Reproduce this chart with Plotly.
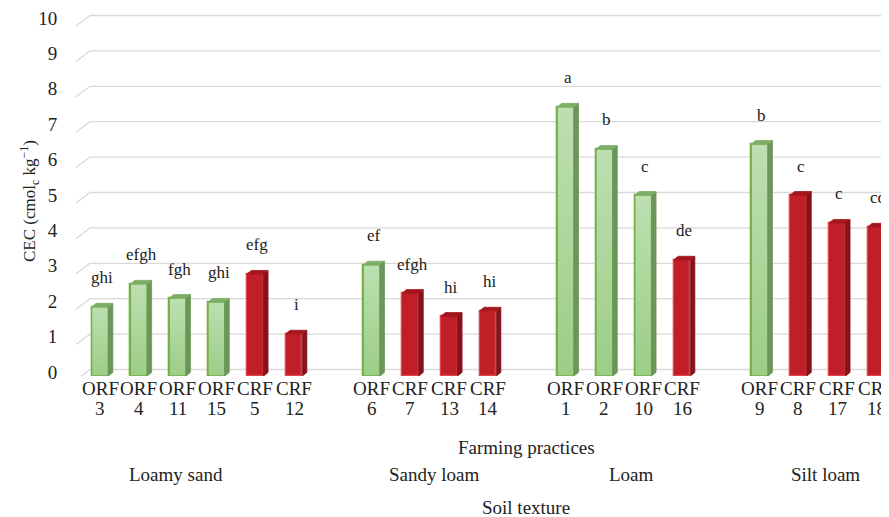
import plotly.graph_objects as go

# ---------------- data ----------------
practices = ["ORF", "ORF", "ORF", "ORF", "CRF", "CRF",
             "ORF", "CRF", "CRF", "CRF",
             "ORF", "ORF", "ORF", "CRF",
             "ORF", "CRF", "CRF", "CRF"]
site_numbers = ["3", "4", "11", "15", "5", "12",
                "6", "7", "13", "14",
                "1", "2", "10", "16",
                "9", "8", "17", "18"]
textures = ["Loamy sand"] * 6 + ["Sandy loam"] * 4 + ["Loam"] * 4 + ["Silt loam"] * 4
texture_order = ["Loamy sand", "Sandy loam", "Loam", "Silt loam"]
cec = [1.95, 2.60, 2.20, 2.09, 2.88, 1.19,
       3.14, 2.34, 1.69, 1.84,
       7.60, 6.41, 5.11, 3.28,
       6.55, 5.11, 4.32, 4.21]
letters = ["ghi", "efgh", "fgh", "ghi", "efg", "i",
           "ef", "efgh", "hi", "hi",
           "a", "b", "c", "de",
           "b", "c", "c", "cd"]
y_ticks = list(range(0, 11))

# ---------------- layout helpers ----------------
W, H = 889, 517
ML, MR, MT, MB = 68, 0, 5, 149
plot_w = W - ML - MR
plot_h = H - MT - MB
slot_px = 38.8
x0_px = 24.0                       # offset of first slot from plot left
px_per_unit = 35.4
x_range = [-x0_px / slot_px, (plot_w - x0_px) / slot_px]
y_range = [0, plot_h / px_per_unit]

# slot positions: one empty slot between texture groups
xpos = [i + texture_order.index(t) for i, t in enumerate(textures)]

bar_w = 16.7 / slot_px
dx = 4.5 / slot_px                 # 3D depth (x)
dy = 3.6 / px_per_unit             # 3D depth (y)
grid_dy = 6.5 / px_per_unit        # back-wall offset of gridlines
label_dy = -4 / px_per_unit        # front edge (tick label) offset

GREEN_FRONT, GREEN_LINE, GREEN_SIDE, GREEN_TOP = "#a9d597", "#72b04a", "#6c955a", "#7eae66"
GREEN_GRAD = [[0, "#9ccd86"], [1, "#bddfb1"]]
RED_FRONT, RED_LINE, RED_SIDE, RED_TOP = "#c11f27", "#e2454b", "#86121a", "#a3161e"

fig = go.Figure()

# front faces
colors = [GREEN_FRONT if p == "ORF" else RED_FRONT for p in practices]
lines = [GREEN_LINE if p == "ORF" else RED_LINE for p in practices]
fig.add_trace(go.Bar(
    x=xpos, y=cec, width=bar_w,
    marker=dict(color=colors, line=dict(color=lines, width=1.3)),
    hoverinfo="skip", showlegend=False,
))

# soft vertical gradient on the green (ORF) front faces
for x, v, p in zip(xpos, cec, practices):
    if p != "ORF":
        continue
    l, r = x - bar_w / 2, x + bar_w / 2
    fig.add_trace(go.Scatter(
        x=[l, r, r, l, l], y=[0, 0, v, v, 0], mode="lines", fill="toself",
        fillgradient=dict(type="vertical", colorscale=GREEN_GRAD, start=0, stop=v),
        line=dict(color=GREEN_LINE, width=1.3),
        hoverinfo="skip", showlegend=False))

# side + top faces (3D look), built from the data
def faces(kind):
    sx, sy, tx, ty = [], [], [], []
    for x, v, p in zip(xpos, cec, practices):
        if p != kind:
            continue
        r = x + bar_w / 2
        l = x - bar_w / 2
        sx += [r, r + dx, r + dx, r, r, None]
        sy += [0, dy, v + dy, v, 0, None]
        tx += [l, r, r + dx, l + dx, l, None]
        ty += [v, v, v + dy, v + dy, v, None]
    return sx, sy, tx, ty

for kind, side_c, top_c in [("ORF", GREEN_SIDE, GREEN_TOP), ("CRF", RED_SIDE, RED_TOP)]:
    sx, sy, tx, ty = faces(kind)
    fig.add_trace(go.Scatter(x=sx, y=sy, mode="lines", fill="toself",
                             fillcolor=side_c, line=dict(color=side_c, width=0.8),
                             hoverinfo="skip", showlegend=False))
    fig.add_trace(go.Scatter(x=tx, y=ty, mode="lines", fill="toself",
                             fillcolor=top_c, line=dict(color=top_c, width=0.8),
                             hoverinfo="skip", showlegend=False))

# gridlines (front slant + back wall)
slant_end = 14 / plot_w
shapes = []
for t in y_ticks:
    shapes.append(dict(type="line", xref="paper", yref="y", x0=0, x1=slant_end,
                       y0=t + label_dy, y1=t + grid_dy,
                       line=dict(color="#d9d9d9", width=1.3), layer="below"))
    shapes.append(dict(type="line", xref="paper", yref="y", x0=slant_end, x1=1,
                       y0=t + grid_dy, y1=t + grid_dy,
                       line=dict(color="#d9d9d9", width=1.3), layer="below"))

SERIF = "'Liberation Serif', 'Times New Roman', Times, serif"
TXT = "#222222"
annotations = []
# significance letters
for x, v, s in zip(xpos, cec, letters):
    annotations.append(dict(x=x + dx / 2, y=v + dy, xref="x", yref="y", text=s,
                            showarrow=False, yanchor="bottom", yshift=14,
                            font=dict(family=SERIF, size=17, color=TXT)))
# two-row category labels: farming practice / site number
for x, p, n in zip(xpos, practices, site_numbers):
    annotations.append(dict(x=x, y=0, xref="x", yref="paper", text=p,
                            showarrow=False, yanchor="middle", yshift=-12,
                            font=dict(family=SERIF, size=19, color=TXT)))
    annotations.append(dict(x=x, y=0, xref="x", yref="paper", text=n,
                            showarrow=False, yanchor="middle", yshift=-32,
                            font=dict(family=SERIF, size=19, color=TXT)))
# texture group labels
texture_label_x = [1.96, 8.61, 13.69, 18.71]
for x, t in zip(texture_label_x, texture_order):
    annotations.append(dict(x=x, y=0, xref="x", yref="paper", text=t,
                            showarrow=False, yanchor="middle", yshift=-98,
                            font=dict(family=SERIF, size=19, color=TXT)))
annotations.append(dict(x=(518 - ML) / plot_w, y=0, xref="paper", yref="paper",
                        text="Farming practices", showarrow=False, yanchor="middle",
                        yshift=-71, font=dict(family=SERIF, size=19, color=TXT)))
annotations.append(dict(x=(518 - ML) / plot_w, y=0, xref="paper", yref="paper",
                        text="Soil texture", showarrow=False, yanchor="middle",
                        yshift=-131, font=dict(family=SERIF, size=19, color=TXT)))
annotations.append(dict(x=(21 - ML) / plot_w, y=(368 - 193) / plot_h, xref="paper",
                        yref="paper", text="CEC (cmol<sub>c</sub> kg<sup>−1</sup>)",
                        showarrow=False, textangle=-90, xanchor="center", yanchor="middle",
                        font=dict(family=SERIF, size=17, color=TXT)))

fig.update_layout(
    width=W, height=H,
    margin=dict(l=ML, r=MR, t=MT, b=MB),
    paper_bgcolor="white", plot_bgcolor="white",
    shapes=shapes, annotations=annotations,
    bargap=0,
    font=dict(family=SERIF, color=TXT),
    xaxis=dict(range=x_range, showgrid=False, zeroline=False, showline=False,
               tickmode="array", tickvals=xpos, showticklabels=False, ticks=""),
    yaxis=dict(range=y_range, showgrid=False, zeroline=False, showline=False,
               tickmode="array", tickvals=y_ticks,
               ticks="outside", ticklen=14, tickcolor="rgba(0,0,0,0)",
               ticklabelshift=-4, ticklabeloverflow="allow",
               tickfont=dict(family=SERIF, size=19, color=TXT)),
)

fig.write_html("out.html")
